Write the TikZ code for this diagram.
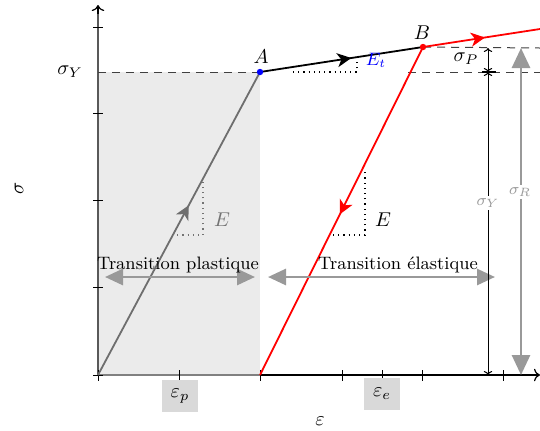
\documentclass[tikz,border=0pt]{standalone}
\usetikzlibrary{arrows.meta,decorations.markings}
\definecolor{shadebg}{HTML}{EBEBEB}
\definecolor{arrgray}{HTML}{999999}
\definecolor{boxgray}{HTML}{D9D9D9}
\definecolor{linegray}{HTML}{6E6E6E}
\begin{document}
\begin{tikzpicture}[x=0.5pt,y=-0.5pt,
  midarrow/.style={postaction={decorate},decoration={markings,mark=at position #1 with {\arrow{Stealth[length=7pt,width=7pt,inset=2pt]}}}},
  bigdbl/.style={arrgray,line width=1.4pt,{Triangle[length=9pt,width=8pt]}-{Triangle[length=9pt,width=8pt]}},
  dimline/.style={black,line width=0.5pt,{To[length=2pt]}-{To[length=2pt]}},
  tickmark/.style={black,line width=0.5pt},
  dashline/.style={black!75,line width=0.5pt,dash pattern=on 4pt off 3pt},
  dotline/.style={line width=0.6pt,dotted},
  epsbox/.style={fill=boxgray,minimum width=18pt,minimum height=16pt,inner sep=1pt},
  graylabel/.style={text=arrgray,fill=white,inner sep=1pt,font=\footnotesize}
]
\useasboundingbox (0,0) rectangle (540,430);
% coordinates
\coordinate (O) at (98,375);
\coordinate (A) at (260,72);
\coordinate (B) at (423,47);
\coordinate (R0) at (260,375);
\coordinate (Rend) at (540,29);
\coordinate (Xend) at (540,375);
\coordinate (Yend) at (98,5);
% shaded region
\fill[shadebg] (98,72) rectangle (260,375);
% axes
\draw[black,line width=0.6pt,-{To[length=3pt]}] (O) -- (Xend);
\draw[black!65,line width=0.8pt] (O) -- (98,12);
\draw[black,line width=0.6pt,-{To[length=3pt]}] (98,14) -- (Yend);
\draw[black!50,line width=0.9pt] (O) -- (R0);
% ticks
\foreach \yy in {27,113,200,287,375} \draw[tickmark] (93,\yy) -- (103,\yy);
\foreach \xx in {98,179,260,342,382,422,503} \draw[tickmark] (\xx,370) -- (\xx,381);
% dashed levels
\draw[dashline] (98,72) -- (A);
\draw[dashline] (408,72) -- (540,72);
\draw[dashline] (B) -- (540,48);
% dotted slope triangles
\draw[dotline,black] (293,72) -- (357,72) -- (357,56);
\draw[dotline,black] (333,235) -- (365,235) -- (365,170);
\draw[dotline,black!55] (172,235) -- (203,235) -- (203,182);
% curves
\draw[linegray,line width=0.9pt,midarrow=0.56] (O) -- (A);
\draw[black,line width=0.9pt,midarrow=0.56] (A) -- (B);
\draw[red,line width=0.9pt,midarrow=0.53] (B) -- (Rend);
\draw[red,line width=0.9pt,midarrow=0.51] (B) -- (R0);
% points
\fill[blue] (A) circle (1.6pt);
\fill[red] (B) circle (1.6pt);
\node (lA) at (261,57) {$A$};
\node (lB) at (422,33) {$B$};
% slope labels
\node[text=blue,font=\small] (lEt) at (376,60) {$E_t$};
\node[text=black!55] (lE1) at (222,220) {$E$};
\node (lE2) at (383,220) {$E$};
% transitions
\coordinate (tp1) at (105,277); \coordinate (tp2) at (255,277);
\coordinate (te1) at (268,277); \coordinate (te2) at (495,277);
\draw[bigdbl] (tp1) -- (tp2);
\draw[bigdbl] (te1) -- (te2);
\node[font=\small] (ltp) at (178,265) {Transition plastique};
\node[font=\small] (lte) at (398,265) {Transition élastique};
% dimension arrows
\coordinate (P1) at (488,48); \coordinate (P2) at (488,72); \coordinate (P3) at (488,375);
\draw[dimline] (P1) -- (P2);
\draw[dimline] (P2) -- (P3);
\draw[black,line width=0.7pt] (482,72) -- (496,72);
\draw[black,line width=0.7pt] (482,375) -- (496,375);
\node (lsP) at (466,59) {$\sigma_P$};
\node[graylabel] (lsY) at (488,203) {$\sigma_Y$};
\coordinate (R1) at (521,48); \coordinate (R2) at (521,375);
\draw[arrgray,line width=1.4pt,{Triangle[length=10pt,width=9pt]}-{Triangle[length=10pt,width=9pt]}] (R1) -- (R2);
\node[graylabel] (lsR) at (520,192) {$\sigma_R$};
% axis labels
\node (lsYl) at (70,72) {$\sigma_Y$};
\node[rotate=90] (lsig) at (19,188) {$\sigma$};
\node (leps) at (320,421) {$\varepsilon$};
\node[epsbox] (lep) at (180,396) {$\varepsilon_p$};
\node[epsbox] (lee) at (382,394) {$\varepsilon_e$};
\end{tikzpicture}
\end{document}
